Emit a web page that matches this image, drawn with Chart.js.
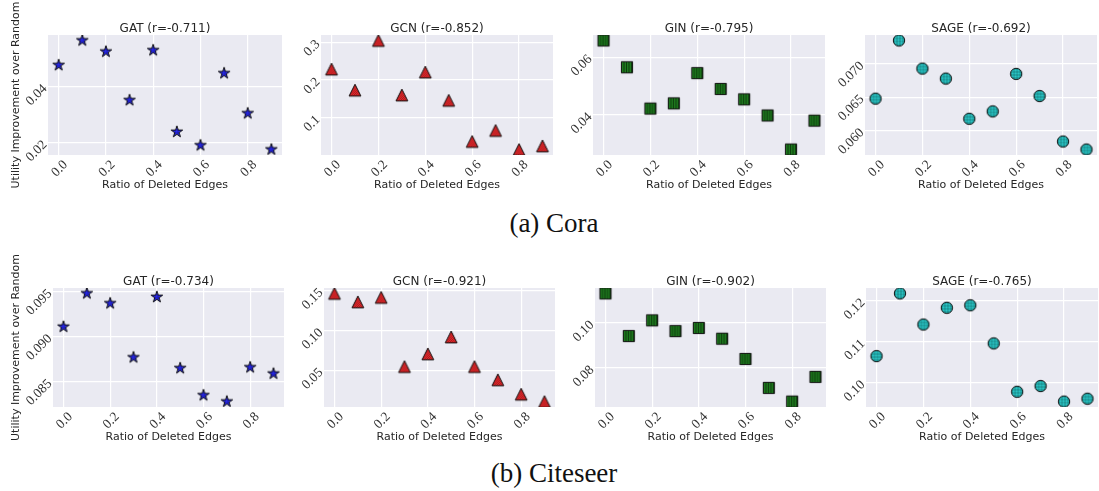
<!DOCTYPE html>
<html>
<head>
<meta charset="utf-8">
<script src="https://cdn.jsdelivr.net/npm/chart.js@4.4.0/dist/chart.umd.min.js"></script>
<style>
html,body{margin:0;padding:0;background:#fff;width:1099px;height:491px;overflow:hidden;position:relative}
canvas{position:absolute}
.cap{position:absolute;font-family:"Liberation Serif",serif;font-size:27px;line-height:30px;color:#111;white-space:nowrap;transform:translateX(-50%)}
</style>
</head>
<body>
<div class="cap" style="left:554px;top:208px">(a) Cora</div>
<div class="cap" style="left:554px;top:458px">(b) Citeseer</div>
<script>
// ---------- data ----------
const ratios = [0.0, 0.1, 0.2, 0.3, 0.4, 0.5, 0.6, 0.7, 0.8, 0.9];
const xTickValues = [0.0, 0.2, 0.4, 0.6, 0.8];
const xTickLabels = ['0.0', '0.2', '0.4', '0.6', '0.8'];

const coraGAT  = [0.0477, 0.0565, 0.0525, 0.0352, 0.0530, 0.0239, 0.0191, 0.0448, 0.0305, 0.0176];
const coraGCN  = [0.229, 0.173, 0.305, 0.160, 0.221, 0.146, 0.0367, 0.066, 0.0153, 0.025];
const coraGIN  = [0.0658, 0.0565, 0.0422, 0.0440, 0.0545, 0.0490, 0.0454, 0.0398, 0.0280, 0.0380];
const coraSAGE = [0.0648, 0.0735, 0.0693, 0.0678, 0.0618, 0.0629, 0.0685, 0.0652, 0.0584, 0.0572];

const citeGAT  = [0.0911, 0.0948, 0.0937, 0.0877, 0.0944, 0.0865, 0.0835, 0.0828, 0.0866, 0.0859];
const citeGCN  = [0.1466, 0.136, 0.1416, 0.055, 0.0709, 0.0921, 0.055, 0.0384, 0.0204, 0.0112];
const citeGIN  = [0.1132, 0.0942, 0.1012, 0.0964, 0.0978, 0.093, 0.084, 0.0711, 0.065, 0.076];
const citeSAGE = [0.1065, 0.1218, 0.1142, 0.1183, 0.1189, 0.1096, 0.0978, 0.0992, 0.0954, 0.0961];

const coraTitles = ['GAT (r=-0.711)', 'GCN (r=-0.852)', 'GIN (r=-0.795)', 'SAGE (r=-0.692)'];
const citeTitles = ['GAT (r=-0.734)', 'GCN (r=-0.921)', 'GIN (r=-0.902)', 'SAGE (r=-0.765)'];

const coraGATTicks  = [0.02, 0.04];            const coraGATTickLabels  = ['0.02', '0.04'];
const coraGCNTicks  = [0.1, 0.2, 0.3];         const coraGCNTickLabels  = ['0.1', '0.2', '0.3'];
const coraGINTicks  = [0.04, 0.06];            const coraGINTickLabels  = ['0.04', '0.06'];
const coraSAGETicks = [0.060, 0.065, 0.070];   const coraSAGETickLabels = ['0.060', '0.065', '0.070'];
const citeGATTicks  = [0.085, 0.090, 0.095];   const citeGATTickLabels  = ['0.085', '0.090', '0.095'];
const citeGCNTicks  = [0.05, 0.10, 0.15];      const citeGCNTickLabels  = ['0.05', '0.10', '0.15'];
const citeGINTicks  = [0.08, 0.10];            const citeGINTickLabels  = ['0.08', '0.10'];
const citeSAGETicks = [0.10, 0.11, 0.12];      const citeSAGETickLabels = ['0.10', '0.11', '0.12'];

const xAxisTitle = 'Ratio of Deleted Edges';
const yAxisTitle = 'Utility Improvement over Random';

// ---------- markers ----------
function shapePath(g, kind, c) {
  g.beginPath();
  if (kind === 'star') {
    const R = 6.1, r = R * 0.382;
    for (let i = 0; i < 10; i++) {
      const a = -Math.PI / 2 + i * Math.PI / 5;
      const rr = i % 2 ? r : R;
      g.lineTo(c + rr * Math.cos(a), c + rr * Math.sin(a));
    }
    g.closePath();
  } else if (kind === 'tri') {
    const h = 5.9;
    g.moveTo(c, c - h); g.lineTo(c + h, c + h); g.lineTo(c - h, c + h); g.closePath();
  } else if (kind === 'sq') {
    g.rect(c - 5.6, c - 5.6, 11.2, 11.2);
  } else {
    g.arc(c, c, 5.7, 0, Math.PI * 2);
  }
}
function markerCanvas(kind) {
  const S = 18, c = S / 2;
  const cv = document.createElement('canvas');
  cv.width = S; cv.height = S;
  const g = cv.getContext('2d');
  const fills = { star: '#2a2af0', tri: '#ec2a2e', sq: '#1f7a1f', circ: '#2ccccc' };
  shapePath(g, kind, c);
  g.save();
  g.fillStyle = fills[kind]; g.fill(); g.clip();
  g.lineWidth = 0.8;
  g.beginPath();
  if (kind === 'star') {
    g.strokeStyle = 'rgba(0,0,60,0.35)';
    for (let k = 1; k < S; k += 3) { g.moveTo(k, 0); g.lineTo(k, S); g.moveTo(0, k); g.lineTo(S, k); }
  } else if (kind === 'circ') {
    g.strokeStyle = 'rgba(0,40,40,0.45)';
    for (let k = 1; k < S; k += 3) { g.moveTo(k, 0); g.lineTo(k, S); g.moveTo(0, k); g.lineTo(S, k); }
  } else if (kind === 'tri') {
    g.strokeStyle = 'rgba(40,0,0,0.5)';
    for (let k = -S; k < 2 * S; k += 2.2) { g.moveTo(k, S); g.lineTo(k + S, 0); }
  } else {
    g.strokeStyle = 'rgba(0,20,0,0.75)';
    for (let k = 1; k < S; k += 2.5) { g.moveTo(k, 0); g.lineTo(k, S); }
  }
  g.stroke();
  g.restore();
  g.lineWidth = 1; g.strokeStyle = '#111';
  shapePath(g, kind, c);
  g.stroke();
  return cv;
}
const markers = { star: markerCanvas('star'), tri: markerCanvas('tri'), sq: markerCanvas('sq'), circ: markerCanvas('circ') };

// ---------- layout ----------
const panels = [
  { vals: coraGAT,  title: coraTitles[0], ticks: coraGATTicks,  labels: coraGATTickLabels,  marker: 'star', L: 48,  R: 287,  T: 35,  B: 155, ytitle: true },
  { vals: coraGCN,  title: coraTitles[1], ticks: coraGCNTicks,  labels: coraGCNTickLabels,  marker: 'tri',  L: 321, R: 558,  T: 35,  B: 155 },
  { vals: coraGIN,  title: coraTitles[2], ticks: coraGINTicks,  labels: coraGINTickLabels,  marker: 'sq',   L: 593, R: 830,  T: 35,  B: 155 },
  { vals: coraSAGE, title: coraTitles[3], ticks: coraSAGETicks, labels: coraSAGETickLabels, marker: 'circ', L: 865, R: 1102, T: 35,  B: 155 },
  { vals: citeGAT,  title: citeTitles[0], ticks: citeGATTicks,  labels: citeGATTickLabels,  marker: 'star', L: 53,  R: 289,  T: 288, B: 407, ytitle: true },
  { vals: citeGCN,  title: citeTitles[1], ticks: citeGCNTicks,  labels: citeGCNTickLabels,  marker: 'tri',  L: 324, R: 560,  T: 288, B: 407 },
  { vals: citeGIN,  title: citeTitles[2], ticks: citeGINTicks,  labels: citeGINTickLabels,  marker: 'sq',   L: 595, R: 831,  T: 288, B: 407 },
  { vals: citeSAGE, title: citeTitles[3], ticks: citeSAGETicks, labels: citeSAGETickLabels, marker: 'circ', L: 866, R: 1103, T: 288, B: 407 }
];

const bgPlugin = {
  id: 'plotbg',
  beforeDraw(chart) {
    const { ctx, chartArea: a } = chart;
    ctx.save();
    ctx.fillStyle = '#EAEAF2';
    ctx.fillRect(a.left, a.top, a.right - a.left, a.bottom - a.top);
    ctx.restore();
  }
};

const SANS = '"DejaVu Sans", sans-serif';
const SERIF = '"Liberation Serif", serif';
const TXT = '#262626';

panels.forEach(p => {
  const Ly = p.ytitle ? p.L : 38;
  const Tt = 16, Bx = 38, Rp = 2;
  const extraTop = p.ytitle ? 30 : 0;
  const w = Ly + (p.R - p.L) + Rp;
  const h = extraTop + Tt + (p.B - p.T) + Bx;
  const cv = document.createElement('canvas');
  cv.width = w; cv.height = h;
  cv.style.left = (p.L - Ly) + 'px';
  cv.style.top = (p.T - Tt - extraTop) + 'px';
  cv.style.width = w + 'px'; cv.style.height = h + 'px';
  document.body.appendChild(cv);

  const mn = Math.min(...p.vals), mx = Math.max(...p.vals);
  const m = (mx - mn) * 0.05;

  new Chart(cv, {
    type: 'scatter',
    data: {
      datasets: [{
        data: ratios.map((x, i) => ({ x: x, y: p.vals[i] })),
        pointStyle: markers[p.marker],
        pointRadius: 6,
        clip: 0
      }]
    },
    options: {
      responsive: false,
      animation: false,
      devicePixelRatio: 1,
      layout: { padding: { top: extraTop, right: Rp, left: 0, bottom: 0 } },
      plugins: {
        legend: { display: false },
        tooltip: { enabled: false },
        title: {
          display: true, text: p.title, fullSize: false, color: TXT,
          font: { family: SANS, size: 12, weight: 'normal', lineHeight: 1 },
          padding: { top: 4, bottom: 0 }
        }
      },
      scales: {
        x: {
          type: 'linear', min: -0.045, max: 0.945,
          afterFit(s) { s.height = Bx; },
          afterBuildTicks(s) { s.ticks = xTickValues.map(v => ({ value: v })); },
          ticks: {
            callback: (v, i) => xTickLabels[i],
            minRotation: 45, maxRotation: 45, autoSkip: false,
            font: { family: SERIF, size: 13.5 }, color: '#333', padding: 2, labelOffset: 7
          },
          grid: { color: '#ffffff', lineWidth: 1.2, drawTicks: false },
          border: { display: false },
          title: {
            display: true, text: xAxisTitle, color: TXT,
            font: { family: SANS, size: 11 }, padding: { top: 0, bottom: 1 }
          }
        },
        y: {
          type: 'linear', min: mn - m, max: mx + m,
          afterFit(s) { s.width = Ly; },
          afterBuildTicks(s) { s.ticks = p.ticks.map(v => ({ value: v })); },
          ticks: {
            callback: (v, i) => p.labels[i],
            minRotation: 45, maxRotation: 45, autoSkip: false,
            font: { family: SERIF, size: 13.5 }, color: '#333', padding: 3
          },
          grid: { color: '#ffffff', lineWidth: 1.2, drawTicks: false },
          border: { display: false },
          title: {
            display: !!p.ytitle, text: yAxisTitle, color: TXT,
            font: { family: SANS, size: 11 }, padding: { top: 10, bottom: 0 }
          }
        }
      }
    },
    plugins: [bgPlugin]
  });
});
</script>
</body>
</html>
